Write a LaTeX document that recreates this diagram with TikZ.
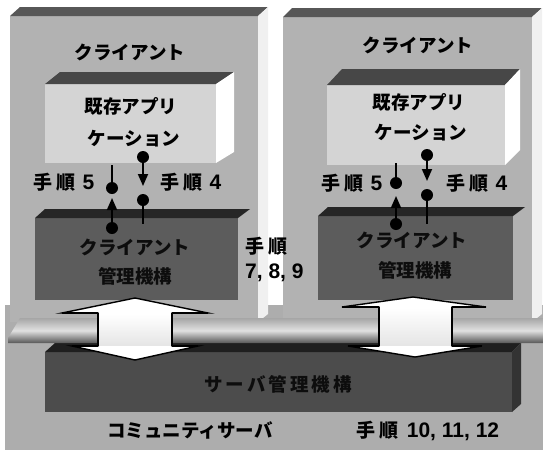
\documentclass[tikz,border=0pt]{standalone}
\usepackage{fontspec}
\newfontfamily\jp{Noto Sans CJK JP}
\newfontfamily\lat{Liberation Sans}
\usetikzlibrary{arrows.meta}
\newcommand\tj{{\fontsize{19}{20}\selectfont 手\kern4pt 順}}
\newcommand\dg[1]{{\lat\bfseries\fontsize{21}{22}\selectfont #1}}
\begin{document}
\begin{tikzpicture}[x=1pt,y=-1pt,
  lbl/.style={font=\jp\bfseries\fontsize{18.5}{20}\selectfont, inner sep=0pt, text=black},
  darklbl/.style={lbl, text=black!95},
  dot/.style={circle, fill=black, inner sep=0pt, minimum size=12pt},
  arr/.style={line width=1.8pt, -{Triangle[length=12pt,width=10pt]}},
  stub/.style={line width=1.8pt},
  panelfront/.style={fill=black!30},
  paneltop/.style={fill=black!66},
  panelside/.style={fill=black!6},
  appfront/.style={fill=black!17},
  apptop/.style={fill=black!72},
  mgmtfront/.style={fill=black!64},
  mgmttop/.style={fill=black!85},
  bigarrow/.style={fill=white, draw=black, line width=1.4pt, line join=miter}
]
\useasboundingbox (0,0) rectangle (543,450);
\fill[white] (0,0) rectangle (543,450);

% community server panel
\fill[black!32] (5,305) rectangle (543,450);

% client panels
\fill[panelfront] (10,16) rectangle (258,322);
\fill[paneltop] (10,16) -- (20,7) -- (268,7) -- (258,16) -- cycle;
\fill[panelside] (258,16) -- (268,7) -- (268,314) -- (258,322) -- cycle;
\fill[panelfront] (283,17) rectangle (532,322);
\fill[paneltop] (283,17) -- (292,8) -- (542,8) -- (532,17) -- cycle;
\fill[panelside] (532,17) -- (542,8) -- (542,314) -- (532,322) -- cycle;

% application boxes
\fill[appfront] (45,84) rectangle (216,163);
\fill[apptop] (45,84) -- (60,72) -- (234,72) -- (216,84) -- cycle;
\fill[white] (216,84) -- (234,72) -- (234,152) -- (216,163) -- cycle;
\fill[appfront] (327,85) rectangle (505,165);
\fill[apptop] (327,85) -- (342,69) -- (520,69) -- (505,85) -- cycle;
\fill[white] (505,85) -- (520,69) -- (520,150) -- (505,165) -- cycle;

% client management boxes
\fill[mgmtfront] (35,218) rectangle (238,300);
\fill[mgmttop] (35,218) -- (45,209) -- (250,209) -- (238,218) -- cycle;
\fill[mgmtfront] (318,216) rectangle (513,300);
\fill[mgmttop] (318,216) -- (328,207) -- (525,207) -- (513,216) -- cycle;

% server management box
\fill[black!70] (45,352) rectangle (512,412);
\fill[black!88] (45,352) -- (55,343) -- (521,343) -- (512,352) -- cycle;
\fill[black!80] (512,352) -- (521,343) -- (521,404) -- (512,412) -- cycle;

% pipe
\shade[top color=black!35, bottom color=black!66, middle color=black!12]
  (8,338) -- (20,318) -- (543,318) -- (543,343) -- (8,343) -- cycle;

% big double arrows
\path[bigarrow] (135,298) -- (208,313) -- (172,313) -- (172,346) -- (198,346)
  -- (135,360) -- (72,346) -- (98,346) -- (98,313) -- (62,313) -- cycle;
\shade[top color=white, middle color=black!50, bottom color=black!10]
  (99,314) rectangle (171,345);
\draw[line width=1.4pt] (98,313) -- (98,346) (172,313) -- (172,346)
  (62,313) -- (98,313) (172,313) -- (208,313) (72,346) -- (98,346) (172,346) -- (198,346);
\path[bigarrow] (413,297) -- (486,307) -- (452,307) -- (452,346) -- (482,346)
  -- (415,357) -- (348,346) -- (379,346) -- (379,307) -- (342,307) -- cycle;
\shade[top color=white, middle color=black!50, bottom color=black!10]
  (380,308) rectangle (451,345);
\draw[line width=1.4pt] (379,307) -- (379,346) (452,307) -- (452,346)
  (342,307) -- (379,307) (452,307) -- (486,307) (348,346) -- (379,346) (452,346) -- (482,346);

% texts
\node[lbl] (cl1) at (130,52) {クライアント};
\node[lbl] (cl2) at (418,45) {クライアント};
\node[lbl] (ap1a) at (131,106) {既存アプリ};
\node[lbl] (ap1b) at (134,139) {ケーション};
\node[lbl] (ap2a) at (419,102) {既存アプリ};
\node[lbl] (ap2b) at (421,133) {ケーション};
\node[darklbl] (cm1a) at (135,247) {クライアント};
\node[darklbl] (cm1b) at (135,276) {管理機構};
\node[darklbl] (cm2a) at (412,240) {クライアント};
\node[darklbl] (cm2b) at (415,270) {管理機構};
\node[lbl, anchor=west] (s789a) at (245,246) {\tj};
\node[lbl, anchor=west] (s789b) at (245,273) {\dg{7, 8, 9}};
\node[darklbl] (srv) at (278,384) {サ\kern3pt ー\kern3pt バ\kern3pt 管\kern3pt 理\kern3pt 機\kern3pt 構};
\node[lbl] (com) at (190,430) {コミュニティサーバ};
\node[lbl] (s1012) at (428,431) {\tj\kern8pt\dg{10, 11, 12}};
\node[lbl] (s5l) at (64,182) {\tj\kern7pt\dg{5}};
\node[lbl] (s4l) at (191,182) {\tj\kern7pt\dg{4}};
\node[lbl] (s5r) at (352,183) {\tj\kern7pt\dg{5}};
\node[lbl] (s4r) at (477,183) {\tj\kern7pt\dg{4}};

% small step arrows, left client
\coordinate (l5top) at (112,165);
\node[dot] (l5d1) at (112,188) {};
\node[dot] (l5d2) at (112,228) {};
\coordinate (l5tip) at (112,198);
\draw[stub] (l5top) -- (l5d1);
\draw[arr] (l5d2) -- (l5tip);
\node[dot] (l4d1) at (143,157) {};
\coordinate (l4tip) at (143,186);
\node[dot] (l4d2) at (143,200) {};
\coordinate (l4bot) at (143,224);
\draw[arr] (l4d1) -- (l4tip);
\draw[stub] (l4d2) -- (l4bot);

% small step arrows, right client
\coordinate (r5top) at (396,163);
\node[dot] (r5d1) at (396,183) {};
\node[dot] (r5d2) at (396,224) {};
\coordinate (r5tip) at (396,196);
\draw[stub] (r5top) -- (r5d1);
\draw[arr] (r5d2) -- (r5tip);
\node[dot] (r4d1) at (427,155) {};
\coordinate (r4tip) at (427,181);
\node[dot] (r4d2) at (427,195) {};
\coordinate (r4bot) at (427,224);
\draw[arr] (r4d1) -- (r4tip);
\draw[stub] (r4d2) -- (r4bot);
\end{tikzpicture}
\end{document}
